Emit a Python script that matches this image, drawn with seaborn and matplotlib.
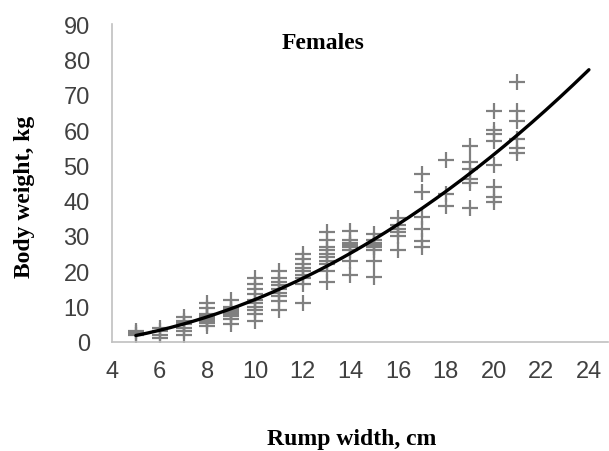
import numpy as np
import pandas as pd
import matplotlib
matplotlib.use('Agg')
import matplotlib.pyplot as plt
import seaborn as sns

# Rump width (cm) groups and the body weights (kg) read for each group
rump_widths = [5, 6, 7, 8, 9, 10, 11, 12, 13, 14, 15, 16, 17, 18, 19, 20, 21]
weights = [
    [2, 2.5, 3],
    [1, 2, 3, 4],
    [2, 3, 4, 5, 5.5, 6, 7],
    [4.5, 5.5, 6, 6.5, 7, 7.5, 8, 9.5, 11],
    [5, 6.5, 7.5, 8, 8.5, 9, 9.5, 10, 12],
    [6, 8, 9, 10, 11, 12, 13.5, 15, 16.5, 18],
    [9, 11.5, 13, 14, 15, 16, 17, 18, 20],
    [11, 16.5, 18, 19, 20, 21, 22, 23.5, 25],
    [17, 20, 22, 23, 24, 25, 26, 27, 29, 31],
    [19, 23, 26, 27, 27.5, 28, 29, 31.5],
    [18.5, 23, 26, 27, 27.5, 28, 29, 30.5],
    [26, 30, 31, 32, 33, 35],
    [27, 28.5, 32, 35.5, 42.5, 47.5],
    [38.5, 42, 51.5],
    [38, 45, 46, 49, 51, 55.5],
    [39.5, 41, 44, 50, 57, 59, 60, 65.5],
    [53.5, 55, 57.5, 62.5, 65.5, 73.5],
]
x_ticks = [4, 6, 8, 10, 12, 14, 16, 18, 20, 22, 24]
y_ticks = [0, 10, 20, 30, 40, 50, 60, 70, 80, 90]

rows = [(w, kg) for w, group in zip(rump_widths, weights) for kg in group]
df = pd.DataFrame(rows, columns=['rump', 'weight'])

# polynomial trend line (order 2), forecast forward to 24 cm
coef = np.polyfit(df['rump'], df['weight'], 2)
trend = pd.DataFrame({'rump': np.linspace(5, 24, 200)})
trend['weight'] = np.polyval(coef, trend['rump'])

sns.set_style('white')
plt.rcParams['font.family'] = ['Liberation Sans Narrow', 'Liberation Sans', 'DejaVu Sans']

fig = plt.figure(figsize=(6.09, 4.52), dpi=100)
ax = fig.add_axes([112 / 609, 1 - 343 / 452, 496 / 609, 318 / 452])

sns.scatterplot(data=df, x='rump', y='weight', marker='+', s=130,
                color='#808080', linewidth=1.6, ax=ax, zorder=2)
sns.lineplot(data=trend, x='rump', y='weight', color='black',
             linewidth=2.4, ax=ax, zorder=3)

ax.set_xlim(4, 24.8)
ax.set_ylim(0, 90)
ax.set_xticks(x_ticks)
ax.set_yticks(y_ticks)
ax.tick_params(axis='both', length=0, labelsize=17, colors='#404040')
ax.tick_params(axis='y', pad=16)
ax.tick_params(axis='x', pad=13)

for side in ['top', 'right']:
    ax.spines[side].set_visible(False)
for side in ['left', 'bottom']:
    ax.spines[side].set_color('#c0c0c0')
    ax.spines[side].set_linewidth(1.2)

serif = dict(family='Liberation Serif', fontweight='bold', fontsize=17, color='black')
ax.set_xlabel('Rump width, cm', va='center', **serif)
ax.set_ylabel('Body weight, kg', va='center', **serif)
ax.xaxis.set_label_coords(0.484, -0.305)
ax.yaxis.set_label_coords(-0.176, 0.46)
ax.text(0.425, 0.943, 'Females', transform=ax.transAxes, ha='center', va='center', **serif)

fig.savefig('out.png', dpi=100)
